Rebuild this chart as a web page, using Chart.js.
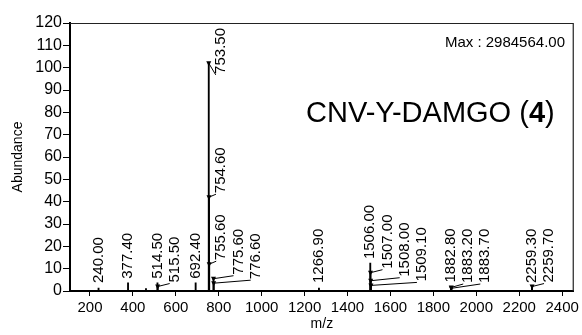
<!DOCTYPE html>
<html>
<head>
<meta charset="utf-8">
<script src="https://cdn.jsdelivr.net/npm/chart.js@4.4.0/dist/chart.umd.min.js"></script>
<style>
  html, body { margin: 0; padding: 0; background: #fff; }
</style>
</head>
<body>
<canvas id="spectrum" width="582" height="335"></canvas>
<script>
// peak list (m/z, relative abundance)
var mz = [240.0, 377.4, 461.0, 514.5, 515.5, 692.4, 753.5, 754.6, 755.6, 775.6, 776.6,
          1266.9, 1506.0, 1507.0, 1508.0, 1509.1, 1882.8, 1883.2, 1883.7, 2259.3, 2259.7];
var abundance = [1.3, 3.7, 1.1, 3.7, 2.0, 3.7, 102, 42, 12, 5.5, 3.5,
                 1.3, 12.5, 8.2, 4.6, 2.5, 2.0, 1.6, 1.2, 1.8, 2.0];
var peakLabels = ["240.00", "377.40", "", "514.50", "515.50", "692.40", "753.50", "754.60", "755.60", "775.60", "776.60",
                  "1266.90", "1506.00", "1507.00", "1508.00", "1509.10", "1882.80", "1883.20", "1883.70", "2259.30", "2259.70"];
var xTicks = [200, 400, 600, 800, 1000, 1200, 1400, 1600, 1800, 2000, 2200, 2400];
var yTicks = [0, 10, 20, 30, 40, 50, 60, 70, 80, 90, 100, 110, 120];
var maxText = "Max : 2984564.00";
var sampleName = ["CNV-Y-DAMGO (", "4", ")"];

var FONT = '"Liberation Sans", Arial, sans-serif';

// labels above the sticks, pushed right when they would hit a stick or another label
var peakLabelPlugin = {
  id: "peakLabels",
  afterDatasetsDraw: function (chart) {
    var ctx = chart.ctx, xs = chart.scales.x, ys = chart.scales.y, area = chart.chartArea;
    var bars = mz.map(function (m, i) {
      return { x: xs.getPixelForValue(m), top: ys.getPixelForValue(abundance[i]) };
    });
    var placed = [];
    ctx.save();
    ctx.font = "15px " + FONT;
    ctx.fillStyle = "#000";
    ctx.strokeStyle = "#000";
    ctx.lineWidth = 1;
    mz.forEach(function (m, i) {
      var text = peakLabels[i];
      if (!text) return;
      var px = bars[i].x, top = bars[i].top;
      var h = ctx.measureText(text).width;
      var bottom = Math.min(top - 4, area.bottom - 8);
      if (bottom - h < area.top + 5) bottom = area.top + 5 + h;
      var ltop = bottom - h;
      var x = px;
      var hit = function (x) {
        var b = bars.some(function (bar) {
          return Math.abs(bar.x - x) < 12 && bar.top < bottom;
        });
        var l = placed.some(function (p) {
          return Math.abs(p.x - x) < 17 && p.top < bottom && ltop < p.bottom;
        });
        return b || l;
      };
      while (hit(x) && x < area.right) x += 0.5;
      placed.push({ x: x, top: ltop, bottom: bottom });

      if (x - px > 3) {
        ctx.beginPath();
        ctx.moveTo(px, top);
        ctx.lineTo(x - 5, bottom + 1);
        ctx.stroke();
        ctx.beginPath();
        ctx.moveTo(px - 2.5, top - 2);
        ctx.lineTo(px + 2.5, top - 2);
        ctx.lineTo(px, top + 3);
        ctx.closePath();
        ctx.fill();
      }
      ctx.save();
      ctx.translate(x, bottom);
      ctx.rotate(-Math.PI / 2);
      ctx.textAlign = "left";
      ctx.textBaseline = "middle";
      ctx.fillText(text, 0, 0);
      ctx.restore();
    });
    ctx.restore();
  },
  afterDraw: function (chart) {
    var ctx = chart.ctx, area = chart.chartArea;
    ctx.save();
    // frame top and right
    ctx.strokeStyle = "#222";
    ctx.lineWidth = 1.2;
    ctx.beginPath();
    ctx.moveTo(area.left, area.top + 0.5);
    ctx.lineTo(area.right - 0.5, area.top + 0.5);
    ctx.lineTo(area.right - 0.5, area.bottom);
    ctx.stroke();

    ctx.fillStyle = "#000";
    ctx.font = "15px " + FONT;
    ctx.textAlign = "right";
    ctx.textBaseline = "middle";
    ctx.fillText(maxText, 565, 43);

    ctx.textAlign = "left";
    var x = 306;
    sampleName.forEach(function (part, k) {
      ctx.font = (k === 1 ? "bold " : "") + "29px " + FONT;
      ctx.fillText(part, x, 114);
      x += ctx.measureText(part).width;
    });
    ctx.restore();
  }
};

var spectrumChart = new Chart(document.getElementById("spectrum"), {
  type: "bar",
  data: {
    datasets: [{
      data: mz.map(function (m, i) { return { x: m, y: abundance[i] }; }),
      backgroundColor: "#000",
      borderWidth: 0,
      barThickness: 1.2
    }]
  },
  options: {
    responsive: false,
    animation: false,
    layout: { padding: { top: 23, right: 7, left: 0, bottom: 0 } },
    plugins: { legend: { display: false }, tooltip: { enabled: false } },
    scales: {
      x: {
        type: "linear",
        min: 107,
        max: 2454,
        offset: false,
        grid: { offset: false, drawOnChartArea: false, drawTicks: true, tickLength: 5, color: "#000" },
        border: { color: "#000", width: 2 },
        ticks: {
          color: "#000", font: { family: FONT, size: 15 }, padding: 3, maxRotation: 0, autoSkip: false,
          callback: function (v) { return String(v); }
        },
        afterBuildTicks: function (scale) { scale.ticks = xTicks.map(function (v) { return { value: v }; }); },
        afterFit: function (scale) { scale.height = 44; },
        title: { display: true, text: "m/z", color: "#000", font: { family: FONT, size: 14 }, padding: { top: 0, bottom: 2 } }
      },
      y: {
        min: 0,
        max: 120,
        grid: { drawOnChartArea: false, drawTicks: true, tickLength: 7, color: "#000" },
        border: { color: "#000", width: 2 },
        ticks: {
          color: "#000", font: { family: FONT, size: 16 }, padding: 1, autoSkip: false,
          callback: function (v) { return String(v); }
        },
        afterBuildTicks: function (scale) { scale.ticks = yTicks.map(function (v) { return { value: v }; }); },
        afterFit: function (scale) { scale.width = 70; },
        title: { display: true, text: "Abundance", color: "#000", font: { family: FONT, size: 14 }, padding: { top: 10, bottom: 0 } }
      }
    }
  },
  plugins: [peakLabelPlugin]
});
</script>
</body>
</html>
